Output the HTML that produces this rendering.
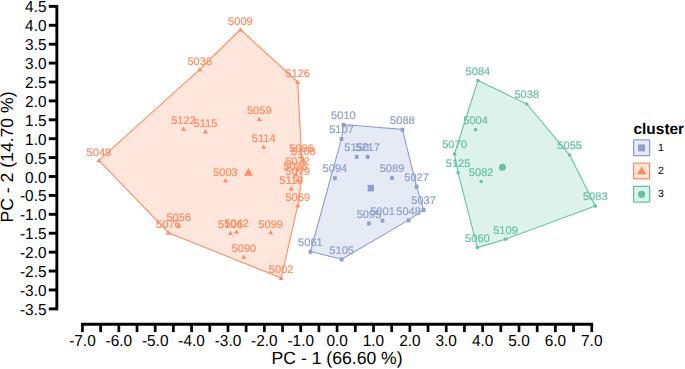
<!DOCTYPE html>
<html><head><meta charset="utf-8"><style>
html,body{margin:0;padding:0;background:#fff;width:685px;height:369px;overflow:hidden}
svg{display:block;font-family:"Liberation Sans",sans-serif;text-rendering:geometricPrecision}
</style></head><body>
<svg width="685" height="369" viewBox="0 0 685 369">
<defs><filter id="nf" x="0" y="0" width="685" height="369" filterUnits="userSpaceOnUse"><feOffset dx="0" dy="0"/></filter></defs>
<polygon points="240.40,29.50 297.70,82.00 301.60,156.30 303.40,160.00 301.00,183.50 297.80,205.50 281.20,278.00 168.40,232.70 98.90,160.30 199.80,69.30" fill="#FC8D62" fill-opacity="0.22" stroke="#FC8D62" stroke-width="1.1" stroke-linejoin="round"/>
<g fill="#FC8D62">
<path d="M240.40,27.19 L242.90,31.54 L237.90,31.54Z"/>
<path d="M199.80,66.99 L202.30,71.34 L197.30,71.34Z"/>
<path d="M297.70,79.69 L300.20,84.04 L295.20,84.04Z"/>
<path d="M98.90,157.99 L101.40,162.34 L96.40,162.34Z"/>
<path d="M183.50,126.49 L186.00,130.84 L181.00,130.84Z"/>
<path d="M205.40,129.09 L207.90,133.44 L202.90,133.44Z"/>
<path d="M259.30,116.69 L261.80,121.04 L256.80,121.04Z"/>
<path d="M263.70,144.49 L266.20,148.84 L261.20,148.84Z"/>
<path d="M225.40,177.99 L227.90,182.34 L222.90,182.34Z"/>
<path d="M301.60,153.99 L304.10,158.34 L299.10,158.34Z"/>
<path d="M303.40,157.69 L305.90,162.04 L300.90,162.04Z"/>
<path d="M297.50,167.19 L300.00,171.54 L295.00,171.54Z"/>
<path d="M295.70,172.19 L298.20,176.54 L293.20,176.54Z"/>
<path d="M297.70,177.69 L300.20,182.04 L295.20,182.04Z"/>
<path d="M291.30,186.09 L293.80,190.44 L288.80,190.44Z"/>
<path d="M297.80,203.19 L300.30,207.54 L295.30,207.54Z"/>
<path d="M178.80,223.19 L181.30,227.54 L176.30,227.54Z"/>
<path d="M168.40,230.39 L170.90,234.74 L165.90,234.74Z"/>
<path d="M230.40,230.69 L232.90,235.04 L227.90,235.04Z"/>
<path d="M236.50,229.19 L239.00,233.54 L234.00,233.54Z"/>
<path d="M270.70,229.89 L273.20,234.24 L268.20,234.24Z"/>
<path d="M243.90,254.49 L246.40,258.84 L241.40,258.84Z"/>
<path d="M281.20,275.69 L283.70,280.04 L278.70,280.04Z"/>
<path d="M248.50,168.00 L253.00,175.83 L244.00,175.83Z"/>
</g>
<g fill="#FC8D62" font-size="11.1" text-anchor="middle" filter="url(#nf)" stroke="#FC8D62" stroke-width="0.2">
<text x="240.40" y="24.90">5009</text>
<text x="199.80" y="64.70">5036</text>
<text x="297.70" y="77.40">5126</text>
<text x="98.90" y="155.70">5049</text>
<text x="183.50" y="124.20">5122</text>
<text x="205.40" y="126.80">5115</text>
<text x="259.30" y="114.40">5059</text>
<text x="263.70" y="142.20">5114</text>
<text x="225.40" y="175.70">5003</text>
<text x="301.60" y="151.70">5086</text>
<text x="303.40" y="155.40">5108</text>
<text x="297.50" y="164.90">5072</text>
<text x="295.70" y="169.90">5085</text>
<text x="297.70" y="175.40">5079</text>
<text x="291.30" y="183.80">5119</text>
<text x="297.80" y="200.90">5069</text>
<text x="178.80" y="220.90">5056</text>
<text x="168.40" y="228.10">5076</text>
<text x="230.40" y="228.40">5106</text>
<text x="236.50" y="226.90">5042</text>
<text x="270.70" y="227.60">5099</text>
<text x="243.90" y="252.20">5090</text>
<text x="281.20" y="273.40">5002</text>
</g>
<polygon points="343.40,124.50 402.40,129.40 416.60,186.50 423.60,209.70 408.60,220.10 341.70,259.20 310.40,251.50 341.50,138.70" fill="#8DA0CB" fill-opacity="0.22" stroke="#8DA0CB" stroke-width="1.1" stroke-linejoin="round"/>
<g fill="#8DA0CB">
<rect x="341.55" y="122.80" width="3.7" height="4.0"/>
<rect x="339.65" y="137.00" width="3.7" height="4.0"/>
<rect x="400.55" y="127.70" width="3.7" height="4.0"/>
<rect x="354.85" y="154.80" width="3.7" height="4.0"/>
<rect x="365.75" y="154.80" width="3.7" height="4.0"/>
<rect x="333.05" y="176.20" width="3.7" height="4.0"/>
<rect x="390.15" y="175.90" width="3.7" height="4.0"/>
<rect x="414.75" y="184.80" width="3.7" height="4.0"/>
<rect x="421.75" y="208.00" width="3.7" height="4.0"/>
<rect x="406.75" y="218.40" width="3.7" height="4.0"/>
<rect x="380.65" y="218.60" width="3.7" height="4.0"/>
<rect x="367.15" y="221.50" width="3.7" height="4.0"/>
<rect x="308.55" y="249.80" width="3.7" height="4.0"/>
<rect x="339.85" y="257.50" width="3.7" height="4.0"/>
<rect x="367.65" y="184.80" width="6.3" height="6.6"/>
</g>
<g fill="#8DA0CB" font-size="11.1" text-anchor="middle" filter="url(#nf)" stroke="#8DA0CB" stroke-width="0.2">
<text x="343.40" y="119.00">5010</text>
<text x="341.50" y="133.20">5107</text>
<text x="402.40" y="123.90">5088</text>
<text x="356.70" y="151.00">5150</text>
<text x="367.60" y="151.00">5217</text>
<text x="334.90" y="172.40">5094</text>
<text x="392.00" y="172.10">5089</text>
<text x="416.60" y="181.00">5027</text>
<text x="423.60" y="204.20">5037</text>
<text x="408.60" y="214.60">5048</text>
<text x="382.50" y="214.80">5001</text>
<text x="369.00" y="217.70">5095</text>
<text x="310.40" y="246.00">5061</text>
<text x="341.70" y="253.70">5105</text>
</g>
<polygon points="477.90,80.60 526.80,104.00 569.70,155.10 595.30,206.10 505.50,239.20 477.40,247.60 458.10,172.80 454.50,154.00" fill="#66C2A5" fill-opacity="0.22" stroke="#66C2A5" stroke-width="1.1" stroke-linejoin="round"/>
<g fill="#66C2A5">
<circle cx="477.90" cy="80.60" r="1.8"/>
<circle cx="526.80" cy="104.00" r="1.8"/>
<circle cx="475.60" cy="129.60" r="1.8"/>
<circle cx="454.50" cy="154.00" r="1.8"/>
<circle cx="569.70" cy="155.10" r="1.8"/>
<circle cx="458.10" cy="172.80" r="1.8"/>
<circle cx="481.20" cy="181.50" r="1.8"/>
<circle cx="595.30" cy="206.10" r="1.8"/>
<circle cx="505.50" cy="239.20" r="1.8"/>
<circle cx="477.40" cy="247.60" r="1.8"/>
<circle cx="502.40" cy="167.20" r="3.5"/>
</g>
<g fill="#66C2A5" font-size="11.1" text-anchor="middle" filter="url(#nf)" stroke="#66C2A5" stroke-width="0.2">
<text x="477.90" y="74.90">5084</text>
<text x="526.80" y="98.30">5038</text>
<text x="475.60" y="123.90">5004</text>
<text x="454.50" y="148.30">5070</text>
<text x="569.70" y="149.40">5055</text>
<text x="458.10" y="167.10">5125</text>
<text x="481.20" y="175.80">5082</text>
<text x="595.30" y="200.40">5083</text>
<text x="505.50" y="233.50">5109</text>
<text x="477.40" y="241.90">5060</text>
</g>
<line x1="56.85" y1="4.92" x2="56.85" y2="310.30" stroke="#000" stroke-width="2.9"/>
<line x1="48.8" y1="6.37" x2="57" y2="6.37" stroke="#000" stroke-width="2.9"/>
<text transform="translate(46.5,12.37) scale(1,1.03)" text-anchor="end" font-size="15.4">4.5</text>
<line x1="48.8" y1="25.28" x2="57" y2="25.28" stroke="#000" stroke-width="2.9"/>
<text transform="translate(46.5,31.28) scale(1,1.03)" text-anchor="end" font-size="15.4">4.0</text>
<line x1="48.8" y1="44.18" x2="57" y2="44.18" stroke="#000" stroke-width="2.9"/>
<text transform="translate(46.5,50.18) scale(1,1.03)" text-anchor="end" font-size="15.4">3.5</text>
<line x1="48.8" y1="63.09" x2="57" y2="63.09" stroke="#000" stroke-width="2.9"/>
<text transform="translate(46.5,69.09) scale(1,1.03)" text-anchor="end" font-size="15.4">3.0</text>
<line x1="48.8" y1="81.99" x2="57" y2="81.99" stroke="#000" stroke-width="2.9"/>
<text transform="translate(46.5,87.99) scale(1,1.03)" text-anchor="end" font-size="15.4">2.5</text>
<line x1="48.8" y1="100.90" x2="57" y2="100.90" stroke="#000" stroke-width="2.9"/>
<text transform="translate(46.5,106.90) scale(1,1.03)" text-anchor="end" font-size="15.4">2.0</text>
<line x1="48.8" y1="119.80" x2="57" y2="119.80" stroke="#000" stroke-width="2.9"/>
<text transform="translate(46.5,125.80) scale(1,1.03)" text-anchor="end" font-size="15.4">1.5</text>
<line x1="48.8" y1="138.71" x2="57" y2="138.71" stroke="#000" stroke-width="2.9"/>
<text transform="translate(46.5,144.71) scale(1,1.03)" text-anchor="end" font-size="15.4">1.0</text>
<line x1="48.8" y1="157.61" x2="57" y2="157.61" stroke="#000" stroke-width="2.9"/>
<text transform="translate(46.5,163.61) scale(1,1.03)" text-anchor="end" font-size="15.4">0.5</text>
<line x1="48.8" y1="176.52" x2="57" y2="176.52" stroke="#000" stroke-width="2.9"/>
<text transform="translate(46.5,182.52) scale(1,1.03)" text-anchor="end" font-size="15.4">0.0</text>
<line x1="48.8" y1="195.42" x2="57" y2="195.42" stroke="#000" stroke-width="2.9"/>
<text transform="translate(46.5,201.42) scale(1,1.03)" text-anchor="end" font-size="15.4">-0.5</text>
<line x1="48.8" y1="214.33" x2="57" y2="214.33" stroke="#000" stroke-width="2.9"/>
<text transform="translate(46.5,220.33) scale(1,1.03)" text-anchor="end" font-size="15.4">-1.0</text>
<line x1="48.8" y1="233.23" x2="57" y2="233.23" stroke="#000" stroke-width="2.9"/>
<text transform="translate(46.5,239.23) scale(1,1.03)" text-anchor="end" font-size="15.4">-1.5</text>
<line x1="48.8" y1="252.14" x2="57" y2="252.14" stroke="#000" stroke-width="2.9"/>
<text transform="translate(46.5,258.13) scale(1,1.03)" text-anchor="end" font-size="15.4">-2.0</text>
<line x1="48.8" y1="271.04" x2="57" y2="271.04" stroke="#000" stroke-width="2.9"/>
<text transform="translate(46.5,277.04) scale(1,1.03)" text-anchor="end" font-size="15.4">-2.5</text>
<line x1="48.8" y1="289.95" x2="57" y2="289.95" stroke="#000" stroke-width="2.9"/>
<text transform="translate(46.5,295.95) scale(1,1.03)" text-anchor="end" font-size="15.4">-3.0</text>
<line x1="48.8" y1="308.85" x2="57" y2="308.85" stroke="#000" stroke-width="2.9"/>
<text transform="translate(46.5,314.85) scale(1,1.03)" text-anchor="end" font-size="15.4">-3.5</text>
<line x1="81.09" y1="324.3" x2="593.11" y2="324.3" stroke="#000" stroke-width="2.9"/>
<line x1="82.44" y1="324.3" x2="82.44" y2="332.1" stroke="#000" stroke-width="2.7"/>
<text transform="translate(82.44,345.9) scale(1,1.03)" text-anchor="middle" font-size="15.4">-7.0</text>
<line x1="100.63" y1="324.3" x2="100.63" y2="332.1" stroke="#000" stroke-width="2.7"/>
<line x1="118.82" y1="324.3" x2="118.82" y2="332.1" stroke="#000" stroke-width="2.7"/>
<text transform="translate(118.82,345.9) scale(1,1.03)" text-anchor="middle" font-size="15.4">-6.0</text>
<line x1="137.01" y1="324.3" x2="137.01" y2="332.1" stroke="#000" stroke-width="2.7"/>
<line x1="155.20" y1="324.3" x2="155.20" y2="332.1" stroke="#000" stroke-width="2.7"/>
<text transform="translate(155.20,345.9) scale(1,1.03)" text-anchor="middle" font-size="15.4">-5.0</text>
<line x1="173.39" y1="324.3" x2="173.39" y2="332.1" stroke="#000" stroke-width="2.7"/>
<line x1="191.58" y1="324.3" x2="191.58" y2="332.1" stroke="#000" stroke-width="2.7"/>
<text transform="translate(191.58,345.9) scale(1,1.03)" text-anchor="middle" font-size="15.4">-4.0</text>
<line x1="209.77" y1="324.3" x2="209.77" y2="332.1" stroke="#000" stroke-width="2.7"/>
<line x1="227.96" y1="324.3" x2="227.96" y2="332.1" stroke="#000" stroke-width="2.7"/>
<text transform="translate(227.96,345.9) scale(1,1.03)" text-anchor="middle" font-size="15.4">-3.0</text>
<line x1="246.15" y1="324.3" x2="246.15" y2="332.1" stroke="#000" stroke-width="2.7"/>
<line x1="264.34" y1="324.3" x2="264.34" y2="332.1" stroke="#000" stroke-width="2.7"/>
<text transform="translate(264.34,345.9) scale(1,1.03)" text-anchor="middle" font-size="15.4">-2.0</text>
<line x1="282.53" y1="324.3" x2="282.53" y2="332.1" stroke="#000" stroke-width="2.7"/>
<line x1="300.72" y1="324.3" x2="300.72" y2="332.1" stroke="#000" stroke-width="2.7"/>
<text transform="translate(300.72,345.9) scale(1,1.03)" text-anchor="middle" font-size="15.4">-1.0</text>
<line x1="318.91" y1="324.3" x2="318.91" y2="332.1" stroke="#000" stroke-width="2.7"/>
<line x1="337.10" y1="324.3" x2="337.10" y2="332.1" stroke="#000" stroke-width="2.7"/>
<text transform="translate(337.10,345.9) scale(1,1.03)" text-anchor="middle" font-size="15.4">0.0</text>
<line x1="355.29" y1="324.3" x2="355.29" y2="332.1" stroke="#000" stroke-width="2.7"/>
<line x1="373.48" y1="324.3" x2="373.48" y2="332.1" stroke="#000" stroke-width="2.7"/>
<text transform="translate(373.48,345.9) scale(1,1.03)" text-anchor="middle" font-size="15.4">1.0</text>
<line x1="391.67" y1="324.3" x2="391.67" y2="332.1" stroke="#000" stroke-width="2.7"/>
<line x1="409.86" y1="324.3" x2="409.86" y2="332.1" stroke="#000" stroke-width="2.7"/>
<text transform="translate(409.86,345.9) scale(1,1.03)" text-anchor="middle" font-size="15.4">2.0</text>
<line x1="428.05" y1="324.3" x2="428.05" y2="332.1" stroke="#000" stroke-width="2.7"/>
<line x1="446.24" y1="324.3" x2="446.24" y2="332.1" stroke="#000" stroke-width="2.7"/>
<text transform="translate(446.24,345.9) scale(1,1.03)" text-anchor="middle" font-size="15.4">3.0</text>
<line x1="464.43" y1="324.3" x2="464.43" y2="332.1" stroke="#000" stroke-width="2.7"/>
<line x1="482.62" y1="324.3" x2="482.62" y2="332.1" stroke="#000" stroke-width="2.7"/>
<text transform="translate(482.62,345.9) scale(1,1.03)" text-anchor="middle" font-size="15.4">4.0</text>
<line x1="500.81" y1="324.3" x2="500.81" y2="332.1" stroke="#000" stroke-width="2.7"/>
<line x1="519.00" y1="324.3" x2="519.00" y2="332.1" stroke="#000" stroke-width="2.7"/>
<text transform="translate(519.00,345.9) scale(1,1.03)" text-anchor="middle" font-size="15.4">5.0</text>
<line x1="537.19" y1="324.3" x2="537.19" y2="332.1" stroke="#000" stroke-width="2.7"/>
<line x1="555.38" y1="324.3" x2="555.38" y2="332.1" stroke="#000" stroke-width="2.7"/>
<text transform="translate(555.38,345.9) scale(1,1.03)" text-anchor="middle" font-size="15.4">6.0</text>
<line x1="573.57" y1="324.3" x2="573.57" y2="332.1" stroke="#000" stroke-width="2.7"/>
<line x1="591.76" y1="324.3" x2="591.76" y2="332.1" stroke="#000" stroke-width="2.7"/>
<text transform="translate(591.76,345.9) scale(1,1.03)" text-anchor="middle" font-size="15.4">7.0</text>
<text x="337.10" y="363.5" text-anchor="middle" font-size="17.6">PC - 1 (66.60 %)</text>
<text transform="translate(13.3,157) rotate(-90)" text-anchor="middle" font-size="17.6">PC - 2 (14.70 %)</text>
<text x="633.5" y="134.4" font-size="15.45" font-weight="bold">cluster</text>
<rect x="633.6" y="139.90" width="16" height="15.8" rx="0.6" fill="#8DA0CB" fill-opacity="0.22" stroke="#8DA0CB" stroke-width="1.3"/>
<g fill="#8DA0CB"><rect x="638.10" y="144.40" width="7" height="7"/></g>
<text x="658.0" y="151.00" font-size="10.5">1</text>
<rect x="633.6" y="163.10" width="16" height="15.8" rx="0.6" fill="#FC8D62" fill-opacity="0.22" stroke="#FC8D62" stroke-width="1.3"/>
<g fill="#FC8D62"><path d="M641.60,166.14 L646.35,174.41 L636.85,174.41Z"/></g>
<text x="658.0" y="174.20" font-size="10.5">2</text>
<rect x="633.6" y="186.30" width="16" height="15.8" rx="0.6" fill="#66C2A5" fill-opacity="0.22" stroke="#66C2A5" stroke-width="1.3"/>
<g fill="#66C2A5"><circle cx="641.60" cy="194.30" r="3.6"/></g>
<text x="658.0" y="197.40" font-size="10.5">3</text>
</svg>
</body></html>
